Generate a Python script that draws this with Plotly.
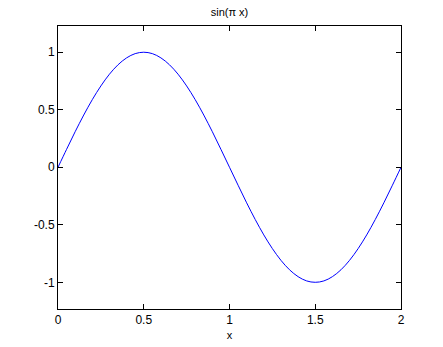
import plotly.graph_objects as go

# samples (x step 0.05)
x_vals = [0.00, 0.05, 0.10, 0.15, 0.20, 0.25, 0.30, 0.35, 0.40, 0.45,
          0.50, 0.55, 0.60, 0.65, 0.70, 0.75, 0.80, 0.85, 0.90, 0.95,
          1.00, 1.05, 1.10, 1.15, 1.20, 1.25, 1.30, 1.35, 1.40, 1.45,
          1.50, 1.55, 1.60, 1.65, 1.70, 1.75, 1.80, 1.85, 1.90, 1.95, 2.00]
y_vals = [0.000, 0.156, 0.309, 0.454, 0.588, 0.707, 0.809, 0.891, 0.951, 0.988,
          1.000, 0.988, 0.951, 0.891, 0.809, 0.707, 0.588, 0.454, 0.309, 0.156,
          0.000, -0.156, -0.309, -0.454, -0.588, -0.707, -0.809, -0.891, -0.951, -0.988,
          -1.000, -0.988, -0.951, -0.891, -0.809, -0.707, -0.588, -0.454, -0.309, -0.156, 0.000]
x_ticks = [0, 0.5, 1, 1.5, 2]
x_tick_labels = ["0", "0.5", "1", "1.5", "2"]
y_ticks = [-1, -0.5, 0, 0.5, 1]
y_tick_labels = ["-1", "-0.5", "0", "0.5", "1"]

fig = go.Figure(go.Scatter(x=x_vals, y=y_vals, mode="lines",
                           line=dict(color="#0000ff", width=1, shape="spline")))

font = dict(family="Liberation Sans, Arial, sans-serif", size=12, color="black")
axis_common = dict(showgrid=False, zeroline=False, showline=True, linecolor="black",
                   linewidth=1, mirror="ticks", ticks="inside", ticklen=5,
                   tickcolor="black", tickfont=font, automargin=False)

fig.update_layout(
    width=443, height=347,
    margin=dict(l=58, r=42, t=26, b=38),
    paper_bgcolor="white", plot_bgcolor="white",
    showlegend=False,
    title=dict(text="sin(π x)", x=(58 + 401) / 2 / 443, xanchor="center",
               y=1 - 12 / 347, yanchor="middle",
               font=dict(family="Liberation Sans, Arial, sans-serif", size=11, color="black")),
    xaxis=dict(range=[0, 2], tickvals=x_ticks, ticktext=x_tick_labels,
               title=dict(text="x", font=dict(family="Liberation Sans, Arial, sans-serif", size=11, color="black"), standoff=4),
               **axis_common),
    yaxis=dict(range=[-1.232, 1.228], tickvals=y_ticks, ticktext=y_tick_labels,
               **axis_common),
)

fig.write_html("out.html")
